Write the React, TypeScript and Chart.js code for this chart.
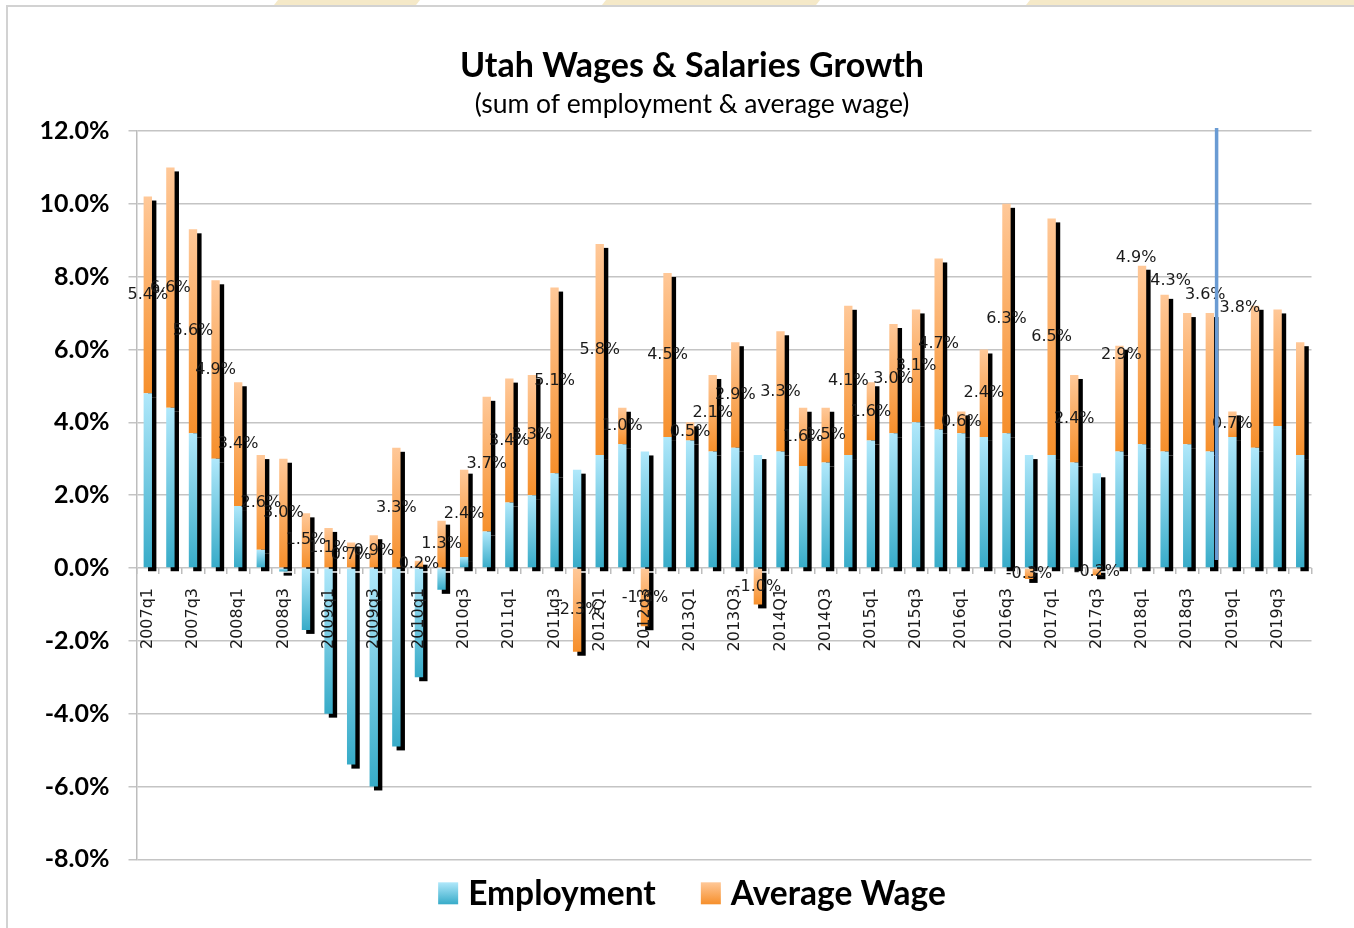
import React, { useEffect, useRef } from 'react';
import { Chart, registerables } from 'chart.js';

Chart.register(...registerables);

// ---------- data ----------
const categories = [
  '2007q1', '2007q2', '2007q3', '2007q4', '2008q1', '2008q2', '2008q3', '2008q4',
  '2009q1', '2009q2', '2009q3', '2009q4', '2010q1', '2010q2', '2010q3', '2010q4',
  '2011q1', '2011q2', '2011q3', '2011q4', '2012Q1', '2012Q2', '2012q3', '2012q4',
  '2013Q1', '2013Q2', '2013Q3', '2013Q4', '2014Q1', '2014Q2', '2014Q3', '2014Q4',
  '2015q1', '2015q2', '2015q3', '2015q4', '2016q1', '2016q2', '2016q3', '2016q4',
  '2017q1', '2017q2', '2017q3', '2017q4', '2018q1', '2018q2', '2018q3', '2018q4',
  '2019q1', '2019q2', '2019q3', '2019q4',
];

const employment = [
  4.8, 4.4, 3.7, 3.0, 1.7, 0.5, -0.1, -1.7,
  -4.0, -5.4, -6.0, -4.9, -3.0, -0.6, 0.3, 1.0,
  1.8, 2.0, 2.6, 2.7, 3.1, 3.4, 3.2, 3.6,
  3.5, 3.2, 3.3, 3.1, 3.2, 2.8, 2.9, 3.1,
  3.5, 3.7, 4.0, 3.8, 3.7, 3.6, 3.7, 3.1,
  3.1, 2.9, 2.6, 3.2, 3.4, 3.2, 3.4, 3.2,
  3.6, 3.3, 3.9, 3.1,
];

const averageWage = [
  5.4, 6.6, 5.6, 4.9, 3.4, 2.6, 3.0, 1.5,
  1.1, 0.7, 0.9, 3.3, 0.2, 1.3, 2.4, 3.7,
  3.4, 3.3, 5.1, -2.3, 5.8, 1.0, -1.6, 4.5,
  0.5, 2.1, 2.9, -1.0, 3.3, 1.6, 1.5, 4.1,
  1.6, 3.0, 3.1, 4.7, 0.6, 2.4, 6.3, -0.3,
  6.5, 2.4, -0.2, 2.9, 4.9, 4.3, 3.6, 3.8,
  0.7, 3.9, 3.2, 3.1,
];

const seriesNames = ['Employment', 'Average Wage'];
const titleText = 'Utah Wages & Salaries Growth';
const subtitleText = '(sum of employment & average wage)';
const yMin = -8;
const yMax = 12;
const yStep = 2;

// value labels not shown for these quarters
const hiddenLabelIndices = [49, 50, 51];
// labels that sit near the top of the bar: [dx, dy from bar top]
const topLabelNudges: Record<number, [number, number]> = {
  43: [2, 9], 44: [-6, -8], 45: [6, -14], 46: [18, -18], 47: [30, -5],
};
// vertical marker placed just after this quarter
const markerIndex = 47;

// ---------- style ----------
const W = 1354;
const H = 928;
const PAD_LEFT = 30;
const PAD_RIGHT = 0;
const RIGHT_GUTTER = 42.5;
const Y_AXIS_WIDTH = 106.5;
const PAD_BOTTOM = 68.7;
const BLUE = ['#b0e8fb', '#37abc8'];
const ORANGE = ['#ffc898', '#f68f2b'];
const palettes = [BLUE, ORANGE];

function segmentGradient(ctx: any, dsIndex: number) {
  const pal = palettes[dsIndex];
  const chart = ctx.chart;
  const ys = chart.scales && chart.scales.y;
  const i = ctx.dataIndex;
  if (!ys || ctx.type !== 'data' || i === undefined) return pal[1];
  const e = employment[i];
  const w = averageWage[i];
  let a: number, b: number;
  if (dsIndex === 0) {
    a = 0; b = e;
  } else if ((e >= 0 && w >= 0) || (e < 0 && w < 0)) {
    a = e; b = e + w;
  } else {
    a = 0; b = w;
  }
  const top = ys.getPixelForValue(Math.max(a, b));
  const bot = ys.getPixelForValue(Math.min(a, b));
  if (!isFinite(top) || !isFinite(bot) || Math.abs(bot - top) < 0.5) return pal[1];
  const g = chart.ctx.createLinearGradient(0, top, 0, bot);
  g.addColorStop(0, pal[0]);
  g.addColorStop(1, pal[1]);
  return g;
}

const backgroundPlugin = {
  id: 'frameBg',
  beforeDraw(chart: any) {
    const c = chart.ctx;
    c.save();
    c.fillStyle = '#ffffff';
    c.fillRect(0, 0, chart.width, chart.height);
    c.fillStyle = '#f5e9c8';
    const shapes = [[278, 420], [606, 820], [1030, 1360]];
    shapes.forEach(([x0, x1]) => {
      c.beginPath();
      c.moveTo(x0, 0);
      c.lineTo(x1, 0);
      c.lineTo(x1 - 4, 5);
      c.lineTo(x0 - 4, 5);
      c.closePath();
      c.fill();
    });
    c.strokeStyle = '#d2d2d2';
    c.lineWidth = 2;
    c.beginPath();
    c.moveTo(7, chart.height + 5);
    c.lineTo(7, 6);
    c.lineTo(chart.width + 5, 6);
    c.stroke();
    c.restore();
  },
};

const shadowPlugin = {
  id: 'barShadow',
  beforeDatasetsDraw(chart: any) {
    const c = chart.ctx;
    c.save();
    c.fillStyle = '#000000';
    chart.data.datasets.forEach((_: any, di: number) => {
      const meta = chart.getDatasetMeta(di);
      meta.data.forEach((el: any) => {
        const { x, y, base, width } = el.getProps(['x', 'y', 'base', 'width'], true);
        const top = Math.min(y, base);
        const h = Math.abs(base - y);
        if (h < 0.5) return;
        c.fillRect(x - width / 2 + 4.4, top + 4, width, h);
      });
    });
    c.restore();
  },
};

const labelPlugin = {
  id: 'wageLabels',
  afterDatasetsDraw(chart: any) {
    const c = chart.ctx;
    const meta = chart.getDatasetMeta(1);
    c.save();
    c.font = '16px "DejaVu Sans"';
    c.fillStyle = '#1a1a1a';
    c.textAlign = 'center';
    c.textBaseline = 'middle';
    meta.data.forEach((el: any, i: number) => {
      if (hiddenLabelIndices.includes(i)) return;
      const { x, y, base } = el.getProps(['x', 'y', 'base'], true);
      const txt = averageWage[i].toFixed(1) + '%';
      const nudge = topLabelNudges[i];
      if (nudge) {
        c.fillText(txt, x + nudge[0], Math.min(y, base) + nudge[1]);
      } else {
        c.fillText(txt, x, (y + base) / 2);
      }
    });
    c.restore();
  },
};

const markerPlugin = {
  id: 'marker',
  afterDatasetsDraw(chart: any) {
    const xs = chart.scales.x;
    const ys = chart.scales.y;
    const p0 = xs.getPixelForValue(markerIndex);
    const p1 = xs.getPixelForValue(markerIndex + 1);
    const x = p0 + 0.3 * (p1 - p0);
    const c = chart.ctx;
    c.save();
    c.strokeStyle = '#6a9bd3';
    c.lineWidth = 3.5;
    c.beginPath();
    c.moveTo(x, chart.chartArea.top - 3);
    c.lineTo(x, ys.getPixelForValue(0) - 8);
    c.stroke();
    c.restore();
  },
};

const legendPlugin = {
  id: 'customLegend',
  afterDraw(chart: any) {
    const c = chart.ctx;
    c.save();
    c.font = 'bold 33.5px Lato';
    const SW = 20;
    const SH = 22;
    const GAP = 10;
    const ITEM_GAP = 45;
    const items = chart.data.datasets.map((d: any, i: number) => ({ text: d.label, pal: palettes[i] }));
    const widths = items.map((it: any) => SW + GAP + c.measureText(it.text).width);
    const total = widths.reduce((a: number, b: number) => a + b, 0) + ITEM_GAP * (items.length - 1);
    const centerX = (chart.width + PAD_LEFT - PAD_RIGHT) / 2;
    let x = centerX - total / 2;
    const cy = chart.chartArea.bottom + 34;
    items.forEach((it: any, i: number) => {
      const g = c.createLinearGradient(0, cy - SH / 2, 0, cy + SH / 2);
      g.addColorStop(0, it.pal[0]);
      g.addColorStop(1, it.pal[1]);
      c.fillStyle = g;
      c.fillRect(x, cy - SH / 2, SW, SH);
      c.fillStyle = '#000000';
      c.textAlign = 'left';
      c.textBaseline = 'middle';
      c.fillText(it.text, x + SW + GAP, cy + 1);
      x += widths[i] + ITEM_GAP;
    });
    c.restore();
  },
};

export default function App() {
  const canvasRef = useRef<HTMLCanvasElement | null>(null);

  useEffect(() => {
    let chart: Chart | null = null;
    let cancelled = false;
    const fontsReady = (document as any).fonts
      ? Promise.all([
          (document as any).fonts.load('bold 33px Lato'),
          (document as any).fonts.load('26px Lato'),
          (document as any).fonts.load('16px "DejaVu Sans"'),
        ]).catch(() => null)
      : Promise.resolve(null);

    fontsReady.then(() => {
      if (cancelled || !canvasRef.current) return;
      chart = new Chart(canvasRef.current, {
        type: 'bar',
        data: {
          labels: categories,
          datasets: [
            {
              label: seriesNames[0],
              data: employment,
              backgroundColor: (ctx: any) => segmentGradient(ctx, 0),
              borderWidth: 0,
              barPercentage: 0.37,
              categoryPercentage: 1,
            },
            {
              label: seriesNames[1],
              data: averageWage,
              backgroundColor: (ctx: any) => segmentGradient(ctx, 1),
              borderWidth: 0,
              barPercentage: 0.37,
              categoryPercentage: 1,
            },
          ],
        },
        options: {
          responsive: false,
          animation: false,
          devicePixelRatio: 1,
          events: [],
          layout: {
            padding: { left: PAD_LEFT, right: PAD_RIGHT, top: 0, bottom: PAD_BOTTOM },
          },
          plugins: {
            legend: { display: false },
            tooltip: { enabled: false },
            title: {
              display: true,
              text: titleText,
              color: '#000000',
              font: { family: 'Lato', weight: 'bold', size: 34, lineHeight: 1.2 },
              padding: { top: 46, bottom: 0 },
            },
            subtitle: {
              display: true,
              text: subtitleText,
              color: '#000000',
              font: { family: 'Lato', weight: 'normal', size: 26.5, lineHeight: 1.2 },
              padding: { top: 2, bottom: 10.4 },
            },
          },
          scales: {
            x: {
              stacked: true,
              position: { y: 0 } as any,
              offset: true,
              grid: {
                display: true,
                drawOnChartArea: false,
                drawTicks: true,
                tickLength: 6,
                color: '#bdbdbd',
                lineWidth: 1.5,
                offset: true,
              },
              border: { display: false },
              ticks: {
                z: 1,
                autoSkip: false,
                maxRotation: 90,
                minRotation: 90,
                padding: 14,
                color: '#1a1a1a',
                font: { family: 'DejaVu Sans', size: 16 },
                callback: (_v: any, i: number) => (i % 2 === 0 ? categories[i] : ''),
              },
            },
            y: {
              stacked: true,
              min: yMin,
              max: yMax,
              grid: { color: '#c4c4c4', lineWidth: 1.5, tickLength: 8 },
              border: { color: '#bdbdbd', width: 1.5 },
              ticks: {
                stepSize: yStep,
                padding: 19,
                color: '#000000',
                font: { family: 'Lato', weight: 'bold', size: 25 },
                callback: (v: any) => Number(v).toFixed(1) + '%',
              },
              afterFit: (scale: any) => {
                scale.width = Y_AXIS_WIDTH;
              },
            },
            gutter: {
              type: 'linear',
              position: 'right',
              display: true,
              min: 0,
              max: 1,
              grid: { display: false },
              border: { display: false },
              ticks: { display: false },
              afterFit: (scale: any) => {
                scale.width = RIGHT_GUTTER;
              },
            },
          },
        },
        plugins: [backgroundPlugin, shadowPlugin, labelPlugin, markerPlugin, legendPlugin],
      });
    });

    return () => {
      cancelled = true;
      if (chart) chart.destroy();
    };
  }, []);

  return (
    <canvas
      ref={canvasRef}
      width={W}
      height={H}
      style={{ position: 'fixed', left: 0, top: 0, width: W, height: H, display: 'block' }}
    />
  );
}
